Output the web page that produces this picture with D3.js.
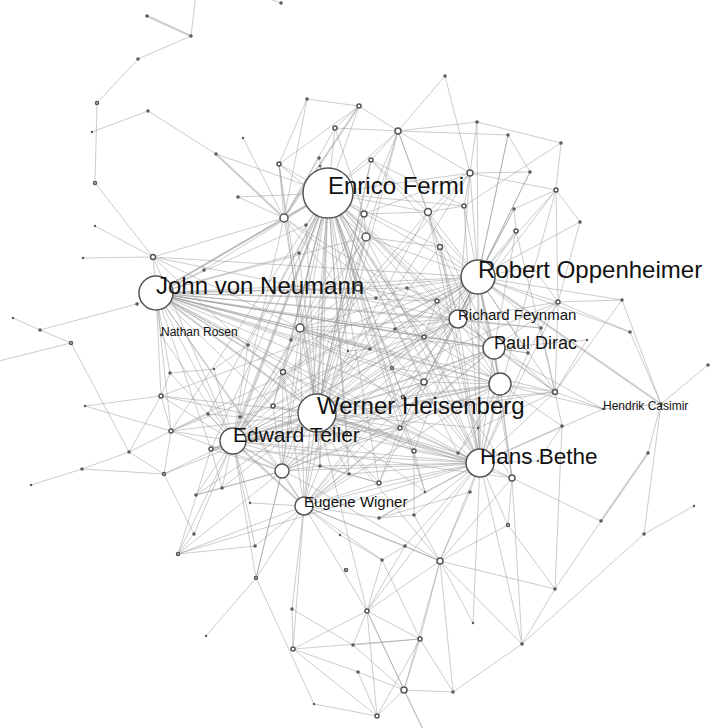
<!DOCTYPE html>
<html>
<head>
<meta charset="utf-8">
<script src="https://cdn.jsdelivr.net/npm/d3@7"></script>
<style>
  body { margin: 0; background: #fff; }
  .link { stroke: #999; stroke-opacity: 0.5; }
  .node { fill: #fff; stroke: #555; stroke-width: 1.5px; }
  .label { font-family: "Liberation Sans", Arial, sans-serif; fill: #111; }
</style>
</head>
<body>
<div id="wrapper"></div>
<script>
// labelled people (same order as the first nodes below)
const names = ["Enrico Fermi", "John von Neumann", "Robert Oppenheimer", "Werner Heisenberg",
  "Edward Teller", "Hans Bethe", "Richard Feynman", "Paul Dirac", "", "Eugene Wigner",
  "Nathan Rosen", "Hendrik Casimir"]

// layout position (x, y) and degree of every node
const nodes = [
  [328,193,50],[156,293,34],[478,277,34],[317,413,38],[233,441,26],[480,463,28],
  [458,319,18],[494,348,22],[500,384,22],[304,506,18],[161,335,1],[603,409,1],
  [282,471,14],[284,218,8],[300,328,8],[366,237,8],[428,212,7],[364,214,6],
  [398,131,6],[470,173,6],[358,288,6],[424,382,6],[512,478,6],[440,561,6],
  [404,690,6],[279,164,4],[153,257,5],[359,106,4],[335,128,4],[371,160,4],
  [556,190,4],[464,206,4],[516,231,4],[440,247,5],[437,301,4],[424,337,4],
  [558,302,4],[555,392,5],[283,372,5],[273,406,4],[161,396,4],[171,431,4],
  [211,449,4],[400,428,4],[414,451,4],[379,483,4],[367,611,4],[293,649,4],
  [420,639,4],[377,716,4],[97,103,3],[95,183,3],[71,343,3],[164,474,3],
  [256,578,3],[346,570,3],[508,525,3],[392,368,3],[403,397,3],[178,554,3],
  [147,16,2],[191,36,2],[196,-6,1],[138,59,2],[148,111,2],[92,132,1],
  [216,154,2],[238,197,2],[243,138,1],[281,3,2],[307,99,2],[445,76,2],
  [477,122,2],[508,135,2],[561,143,2],[319,158,2],[530,172,2],[580,222,2],
  [514,209,2],[306,225,2],[299,253,2],[376,298,2],[407,288,2],[395,329,2],
  [370,349,2],[348,351,1],[291,340,2],[248,345,2],[214,369,1],[204,270,2],
  [137,304,2],[40,330,2],[13,318,1],[-5,362,1],[170,373,2],[208,414,2],
  [240,417,2],[129,452,2],[82,469,2],[31,485,1],[85,406,1],[196,495,2],
  [222,488,2],[194,534,2],[255,546,2],[206,636,1],[250,503,1],[320,466,2],
  [349,474,2],[379,518,2],[414,515,2],[340,535,1],[405,546,2],[382,560,2],
  [292,609,2],[353,645,2],[358,672,2],[314,704,1],[427,738,1],[425,492,1],
  [458,453,2],[478,428,1],[470,492,2],[538,461,1],[562,426,2],[528,353,2],
  [541,328,2],[587,340,1],[622,300,2],[630,332,2],[708,365,2],[661,404,2],
  [648,453,2],[601,521,2],[644,534,2],[694,506,1],[555,589,2],[522,644,2],
  [453,692,2],[473,623,1],[533,267,2],[347,434,1],[320,166,1],[83,258,1],
  [95,226,1],[255,-6,1]
]

// edges: [source, target, weight]
const hubLinks = [
  [0,1,2],[0,2],[0,3,2],[0,4,2],[0,5],[0,6],[0,7],[0,8],[0,9],[0,12],
  [1,2],[1,3,2],[1,4],[1,5],[1,6],[1,7],[1,8],[1,9],[1,12],
  [2,3],[2,4],[2,5,2],[2,6,2],[2,7],[2,8,2],[2,9],[2,12],
  [3,4],[3,5,2],[3,6],[3,7],[3,8],[3,9],[3,12],
  [4,5],[4,6],[4,7],[4,8],[4,9,2],[4,12],
  [5,6],[5,7],[5,8],[5,9],[5,12],[6,7],[6,8],[6,9],[6,12],
  [7,8],[7,9],[7,12],[8,9],[8,12],[9,12]
]
const fanTargets = [
  [0, [13,14,15,16,17,18,19,20,21,25,27,28,29,31,33,34,35,38,39,41,42,43,44,45,57,58,75,
       79,80,84,85,86,87,95,96,107,108,119,120,121,141,22,37,89,142]],
  [1, [13,14,15,20,21,26,34,35,38,39,40,41,42,43,44,57,58,81,82,83,84,86,87,89,90,94,10,37,125,126]],
  [2, [14,15,16,19,20,21,30,31,32,33,34,35,36,37,38,41,43,44,57,58,73,76,78,82,83,125,126,
       128,129,140,22,39,45,26,40]],
  [3, [13,14,15,16,20,21,26,33,34,35,37,38,39,41,42,43,44,45,53,101,102,107,108,119,120,121,
       29,17,57,84,85,40,19,22,23,46]],
  [4, [13,14,15,20,21,35,38,39,40,41,42,43,53,59,87,88,94,95,96,101,102,103,104,106,17,54,45,
       16,19,36,37,22,23]],
  [5, [14,15,16,21,22,23,31,33,34,35,36,37,38,39,43,44,45,46,56,109,110,119,120,121,122,123,
       124,125,11,137,139,107,108,40,42,59,13,30]],
  [6, [14,16,19,21,33,34,35,36,39,82,83,126,37,30,32,26,41]],
  [7, [14,16,21,35,36,37,125,127,11,32,22,43,13]],
  [8, [14,21,22,37,43,57,58,124,11,33,35,42,13]],
  [9, [14,21,23,38,43,46,47,54,59,104,106,107,108,111,113,114,45,112]],
  [12, [14,21,38,39,42,43,54,101,102,107,41,15]]
]
const outerLinks = [
  [60,61,2],[61,62],[61,63],[63,50],[50,51],[51,26],[64,65],[64,66],[66,13,2],[66,0],
  [67,13],[67,0],[68,13],[69,145],[26,143],[26,144],[26,13],[26,14],[26,4],
  [25,70],[25,13],[25,14],[25,15],[25,3],[70,27],[70,13],[27,28],[27,18],[27,13,2],[27,25],
  [28,18],[28,13],[28,17],[18,71],[18,29],[18,17],[18,15],[18,72],[18,73],[18,16],[18,20],
  [18,33],[18,19],[71,19],[72,19],[72,74],[72,2],[73,2],[73,76],[74,30],[74,31],[19,76],
  [19,30],[19,31],[19,17],[76,2],[30,77],[30,78],[30,36],[77,36],[77,2],[78,32],[78,2],
  [32,37],[31,29],[29,3],[29,2],[16,29],[75,13],[79,1],[80,1],[80,3],[79,3],[15,9],
  [140,36],[36,128],[36,129],[36,37],[128,131],[128,37],[129,131],[130,131],[131,2,2],
  [131,132],[131,134],[131,11],[11,37],[37,126],[37,124],[124,136],[132,133,2],[133,22],
  [133,136],[134,135],[134,137],[136,137],[136,56],[136,23],[137,138],[137,22],[137,23],
  [138,23],[138,24],[138,48],[139,23],[22,56],[22,23],[56,23],[23,48],[23,46],[23,24],
  [23,112],[24,48],[24,49],[24,46],[24,115],[24,116],[24,118],[48,46],[48,113],[48,49],
  [48,115],[49,116],[49,117],[49,47],[49,46],[46,113],[46,115],[46,47],[46,112],[47,114],
  [47,48],[47,116],[114,115],[117,54],[118,46],[54,105],[54,12],[59,103],[59,12],[59,104],
  [59,42],[103,53],[53,41],[53,97],[97,40],[97,98],[97,41],[98,99],[98,53],[41,40],
  [41,100],[40,94],[40,100],[90,91],[91,92],[91,52],[52,97],[52,93],[10,4],[14,38],[38,39],
  [57,21],[58,21],[84,14],[85,14],[81,20],[82,34],[83,35],[141,3],[141,4],[45,43],[109,9],
  [110,23],[112,5],[43,21],[121,8],[120,8],[122,23],[35,34],[34,20],[20,14],[14,15],
  [15,17],[17,16],[16,19],[31,16],[33,15],[87,88],[88,94],[95,96],[96,39],[95,41],
  [101,102],[102,42],[107,108],[108,45],[109,110],[110,44],[112,113],[113,111],[109,119],
  [119,44],[120,121],[122,109],[123,124],[121,37],[125,126],[126,36],[127,37],[57,58],
  [84,85],[81,82],[83,84]
]

function drawNetwork() {
  const dimensions = { width: 728, height: 728 }

  const nodeData = nodes.map((d, i) => ({ i, x: d[0], y: d[1], degree: d[2], name: names[i] || "" }))
  const links = [...hubLinks, ...outerLinks]
  fanTargets.forEach(([hub, targets]) => targets.forEach(t => links.push([hub, t])))
  const linkData = links.map(l => ({ source: nodeData[l[0]], target: nodeData[l[1]], weight: l[2] || 1 }))

  const xScale = d3.scaleLinear().domain([0, 728]).range([0, dimensions.width])
  const yScale = d3.scaleLinear().domain([0, 728]).range([0, dimensions.height])
  const rScale = d3.scaleLinear().domain([0, 50]).range([0, 25])
  const widthScale = d3.scaleLinear().domain([1, 2]).range([1, 2])
  const fontScale = d3.scaleLinear().domain([7, 15]).range([12, 24]).clamp(true)

  const wrapper = d3.select("#wrapper")
    .append("svg")
      .attr("width", dimensions.width)
      .attr("height", dimensions.height)

  const bounds = wrapper.append("g")

  bounds.append("g").selectAll(".link")
    .data(linkData)
    .enter().append("line")
      .attr("class", "link")
      .attr("x1", d => xScale(d.source.x))
      .attr("y1", d => yScale(d.source.y))
      .attr("x2", d => xScale(d.target.x))
      .attr("y2", d => yScale(d.target.y))
      .attr("stroke-width", d => widthScale(d.weight))

  bounds.append("g").selectAll(".node")
    .data(nodeData)
    .enter().append("circle")
      .attr("class", "node")
      .attr("cx", d => xScale(d.x))
      .attr("cy", d => yScale(d.y))
      .attr("r", d => rScale(d.degree))

  bounds.append("g").selectAll(".label")
    .data(nodeData.filter(d => d.name))
    .enter().append("text")
      .attr("class", "label")
      .attr("x", d => xScale(d.x))
      .attr("y", d => yScale(d.y) + 1)
      .style("font-size", d => `${fontScale(rScale(d.degree))}px`)
      .text(d => d.name)
}
drawNetwork()
</script>
</body>
</html>
